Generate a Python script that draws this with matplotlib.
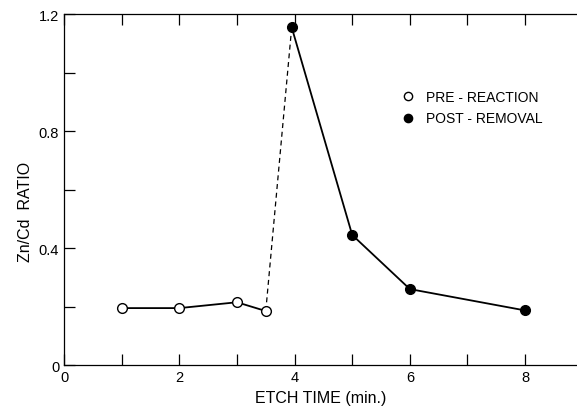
import matplotlib
matplotlib.use("Agg")
import matplotlib.pyplot as plt
from matplotlib.ticker import FixedLocator

plt.rcParams['font.family'] = ['Liberation Sans', 'DejaVu Sans']

pre_x = [1, 2, 3, 3.5]
pre_y = [0.195, 0.195, 0.215, 0.185]
post_x = [3.95, 5, 6, 8]
post_y = [1.155, 0.445, 0.26, 0.187]

fig = plt.figure(figsize=(5.77, 4.10), dpi=100)
ax = fig.add_axes([0.111, 0.107, 0.889, 0.856])

ax.plot(pre_x, pre_y, color='black', lw=1.3, zorder=2)
ax.plot(post_x, post_y, color='black', lw=1.3, zorder=2)
ax.plot([pre_x[-1], post_x[0]], [pre_y[-1], post_y[0]], color='black', lw=0.9,
        linestyle=(0, (4, 3)), zorder=1)
ax.plot(pre_x, pre_y, 'o', ms=7, mfc='white', mec='black', mew=1.0, zorder=3,
        label='PRE - REACTION', linestyle='none')
ax.plot(post_x, post_y, 'o', ms=7, mfc='black', mec='black', zorder=3,
        label='POST - REMOVAL', linestyle='none')

ax.set_xlim(0, 8.9)
ax.set_ylim(0, 1.2)
ax.xaxis.set_major_locator(FixedLocator([0, 2, 4, 6, 8]))
ax.xaxis.set_minor_locator(FixedLocator([1, 3, 5, 7]))
ax.yaxis.set_major_locator(FixedLocator([0, 0.4, 0.8, 1.2]))
ax.yaxis.set_minor_locator(FixedLocator([0.2, 0.6, 1.0]))
ax.set_xticklabels(['0', '2', '4', '6', '8'])
ax.set_yticklabels(['0', '0.4', '0.8', '1.2'])
ax.tick_params(which='both', direction='in', top=True, right=False, length=8,
               width=0.9, labelsize=10.5)
ax.spines['right'].set_visible(False)
for s in ['left', 'bottom', 'top']:
    ax.spines[s].set_linewidth(0.9)

ax.set_xlabel('ETCH TIME (min.)', fontsize=11.5, labelpad=4)
ax.set_ylabel('Zn/Cd  RATIO', fontsize=11.5)
ax.yaxis.set_label_coords(-0.06, 0.44)

ax.legend(loc='upper left', bbox_to_anchor=(0.632, 0.82), frameon=False,
          fontsize=10, handletextpad=0.8, labelspacing=0.55, handlelength=1.0,
          markerscale=0.85)

fig.savefig('out.png', dpi=100)
